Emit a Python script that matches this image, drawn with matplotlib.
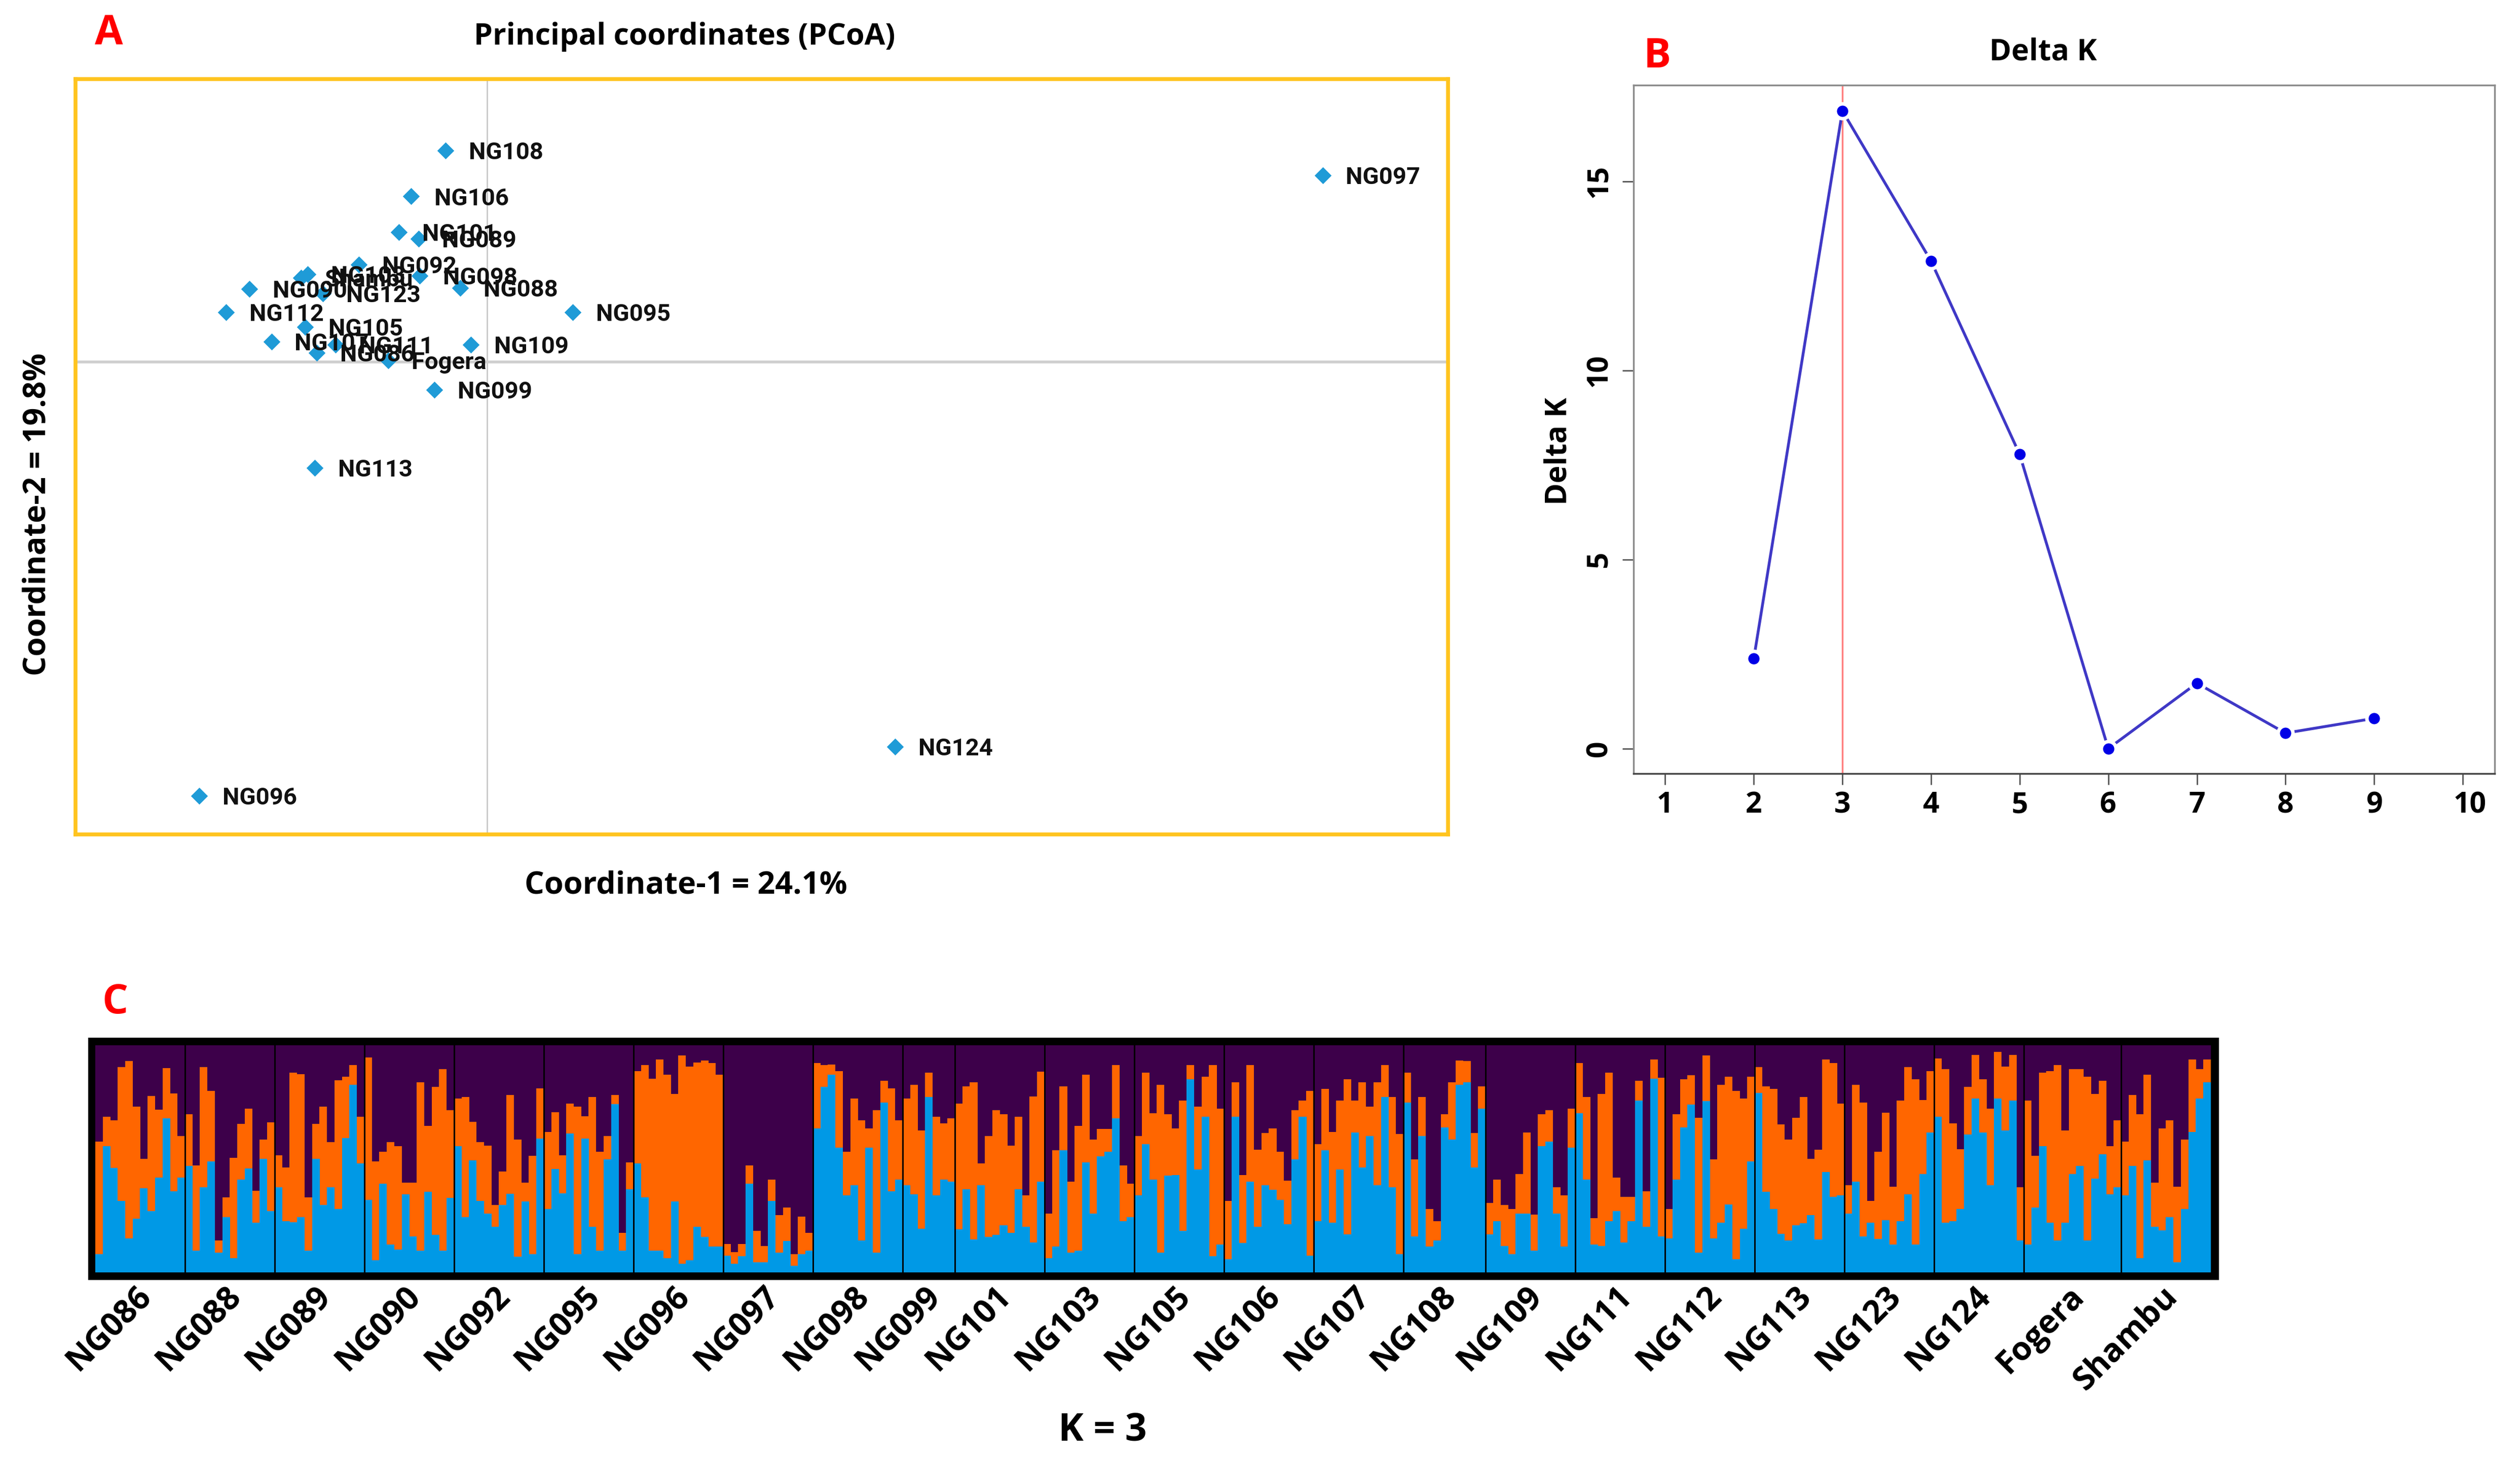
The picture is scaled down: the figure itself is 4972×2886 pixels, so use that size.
import matplotlib
matplotlib.use("Agg")
import matplotlib.pyplot as plt
from matplotlib.patches import Rectangle
from matplotlib.transforms import ScaledTranslation

plt.rcParams['font.family'] = ['Open Sans', 'DejaVu Sans']

W, H = 4972, 2886

# ---- PCoA data (coordinates in arbitrary units) ----
pcoa_names = ["NG108", "NG106", "NG101", "NG089", "NG092", "NG098", "NG088", "NG095",
              "NG109", "NG099", "NG112", "NG090", "NG123", "NG105", "NG107", "NG111",
              "NG086", "Fogera", "Shambu", "NG103", "NG097", "NG096", "NG124", "NG113"]
coord1 = [-0.257, -0.472, -0.549, -0.426, -0.798, -0.418, -0.167, 0.533,
          -0.100, -0.328, -1.624, -1.477, -1.021, -1.132, -1.341, -0.941,
          -1.059, -0.613, -1.156, -1.116, 5.20, -1.79, 2.54, -1.07]
coord2 = [1.315, 1.030, 0.808, 0.766, 0.606, 0.536, 0.460, 0.309,
          0.107, -0.174, 0.309, 0.454, 0.427, 0.219, 0.125, 0.107,
          0.058, 0.010, 0.524, 0.546, 1.16, -2.70, -2.395, -0.66]

# ---- Delta K data ----
k_values = [2, 3, 4, 5, 6, 7, 8, 9]
delta_k = [2.38, 16.86, 12.89, 7.78, 0.0, 1.73, 0.41, 0.80]

# ---- Structure data: one row per group ----
group_names = ["NG086", "NG088", "NG089", "NG090", "NG092", "NG095", "NG096", "NG097",
               "NG098", "NG099", "NG101", "NG103", "NG105", "NG106", "NG107", "NG108",
               "NG109", "NG111", "NG112", "NG113", "NG123", "NG124", "Fogera", "Shambu"]

# share of the blue cluster in each individual
blue_share = [
    [.08, .556, .46, .315, .15, .236, .37, .27, .417, .678, .357, .417],
    [.468, .097, .374, .488, .086, .244, .062, .409, .457, .218, .50, .27],
    [.374, .226, .22, .244, .097, .50, .297, .374, .28, .592, .826, .48],
    [.32, .054, .39, .122, .10, .343, .158, .097, .355, .165, .097, .329],
    [.556, .244, .494, .315, .26, .20, .297, .346, .07, .312, .08, .59],
    [.28, .456, .349, .612, .08, .59, .20, .097, .497, .74, .097, .366],
    [.48, .33, .097, .097, .062, .312, .037, .054, .20, .156, .114, .114],
    [.073, .037, .071, .39, .045, .045, .315, .088, .139, .03, .08, .097],
    [.635, .816, .87, .548, .34, .383, .141, .548, .088, .748, .357, .409],
    [.385, .343, .192, .773, .34, .409, .40],
    [.19, .366, .144, .383, .156, .165, .208, .175, .366, .20, .131, .40],
    [.062, .114, .539, .086, .097, .485, .26, .511, .531, .678, .226, .244],
    [.34, .565, .409, .088, .426, .428, .184, .85, .454, .686, .071, .122],
    [.058, .686, .129, .40, .20, .385, .363, .32, .212, .498, .686, .073],
    [.226, .537, .218, .453, .167, .616, .462, .60, .383, .773, .374, .08],
    [.748, .158, .60, .114, .141, .639, .584, .827, .836, .462, .722],
    [.167, .226, .115, .08, .26, .26, .097, .556, .575, .26, .114, .548],
    [.70, .409, .122, .115, .226, .269, .131, .226, .756, .20, .853, .158],
    [.15, .409, .639, .739, .088, .755, .15, .218, .30, .058, .192, .488],
    [.79, .355, .278, .169, .141, .208, .216, .252, .144, .443, .332, .34],
    [.259, .40, .158, .218, .148, .229, .122, .226, .343, .122, .434, .616],
    [.685, .218, .226, .28, .608, .765, .616, .383, .765, .626, .756, .141],
    [.122, .286, .556, .218, .141, .218, .434, .468, .141, .413, .52, .343, .374],
    [.34, .468, .062, .494, .20, .186, .244, .045, .28, .618, .765, .836],
]
# top of the orange cluster (blue + orange), the rest up to 1 is purple
orange_top = [
    [.575, .686, .67, .904, .93, .73, .50, .776, .716, .90, .787, .60],
    [.697, .47, .904, .80, .141, .33, .505, .654, .722, .36, .585, .66],
    [.515, .462, .88, .873, .33, .654, .73, .574, .845, .862, .913, .686],
    [.947, .488, .532, .574, .556, .394, .394, .836, .645, .816, .896, .714],
    [.765, .772, .662, .574, .558, .297, .445, .782, .584, .394, .514, .81],
    [.618, .705, .515, .744, .729, .688, .773, .532, .60, .782, .175, .485],
    [.887, .913, .853, .938, .87, .785, .956, .907, .924, .932, .921, .87],
    [.124, .09, .124, .47, .184, .115, .409, .252, .286, .08, .246, .175],
    [.921, .913, .915, .887, .532, .765, .67, .635, .714, .844, .81, .67],
    [.765, .827, .626, .879, .686, .656, .678],
    [.744, .819, .836, .479, .60, .714, .697, .558, .686, .34, .774, .885],
    [.26, .539, .819, .40, .645, .87, .585, .631, .631, .913, .47, .391],
    [.60, .879, .70, .825, .697, .635, .756, .913, .731, .862, .913, .722],
    [.315, .836, .428, .913, .541, .614, .635, .532, .403, .714, .756, .80],
    [.565, .808, .618, .756, .85, .756, .836, .731, .836, .913, .773, .609],
    [.879, .497, .773, .28, .226, .697, .836, .932, .93, .614, .819],
    [.306, .409, .297, .28, .432, .616, .255, .697, .714, .374, .34, .722],
    [.921, .773, .238, .785, .879, .417, .332, .332, .844, .357, .938, .857],
    [.278, .697, .85, .868, .68, .956, .498, .825, .862, .80, .765, .862],
    [.904, .819, .808, .652, .584, .68, .773, .50, .541, .938, .921, .744],
    [.383, .827, .748, .315, .531, .703, .377, .756, .904, .85, .759, .887],
    [.943, .896, .656, .543, .816, .957, .85, .722, .971, .907, .957, .374],
    [.756, .514, .879, .887, .913, .626, .896, .896, .862, .785, .844, .556, .67],
    [.575, .782, .697, .87, .394, .635, .67, .377, .584, .938, .896, .938],
]

BLUE = "#0099E6"
ORANGE = "#FF6600"
PURPLE = "#3D004A"


def box(l, t, r, b):
    # pixel box of the reference -> figure fractions
    return [l / W, 1 - b / H, (r - l) / W, (b - t) / H]


def put(x, y, s, **kw):
    fig.text(x / W, 1 - y / H, s, ha="center", va="center", **kw)


def nudge(label, px):
    # shift a tick label sideways by some pixels
    label.set_transform(label.get_transform() + ScaledTranslation(px / 100, 0, fig.dpi_scale_trans))


fig = plt.figure(figsize=(W / 100, H / 100), dpi=100)

# ================= A: PCoA ================= #
ax_a = fig.add_axes(box(149, 156, 2857, 1646))
ax_a.set_xlim(-2.56, 5.98)
ax_a.set_ylim(-2.94, 1.76)
ax_a.axvline(0, color="#C8C8C8", lw=2)
ax_a.axhline(0, color="#CFCFCF", lw=4)
ax_a.scatter(coord1, coord2, marker="D", s=290, color="#1F9BD7", linewidths=0, zorder=3)
for name, cx, cy in zip(pcoa_names, coord1, coord2):
    ax_a.annotate(name, (cx, cy), xytext=(33, -3), textcoords="offset points",
                  va="center", fontsize=34, fontweight="bold", color="#111111", zorder=4,
                  family=["Roboto", "Open Sans"])
ax_a.set_xticks([])
ax_a.set_yticks([])
for sp in ax_a.spines.values():
    sp.set_color("#FFC41F")
    sp.set_linewidth(5.5)

put(1351, 72, "Principal coordinates (PCoA)", fontsize=42.5, fontweight="bold")
put(1353, 1747, "Coordinate-1 = 24.1%", fontsize=44, fontweight="bold")
put(74, 1015, "Coordinate-2 = 19.8%", fontsize=44, fontweight="bold", rotation=90)
put(215, 68, "A", fontsize=58, fontweight="bold", color="#FF0000")

# ================= B: Delta K ================= #
ax_b = fig.add_axes(box(3223, 168, 4922, 1526))
ax_b.set_xlim(0.643, 10.36)
ax_b.set_ylim(-0.66, 17.54)
ax_b.axvline(3, color="#FF8080", lw=2.5)
ax_b.plot(k_values, delta_k, color="#3F38C6", lw=4, marker="o", ms=21,
          mfc="#0000E6", mec="white", mew=5)
ax_b.set_xticks(range(1, 11))
ax_b.set_yticks([0, 5, 10, 15])
ax_b.tick_params(axis="x", length=16, width=2, color="#555555", labelsize=41, pad=8)
ax_b.tick_params(axis="y", length=16, width=2, color="#555555", labelsize=41, pad=12)
for lab in ax_b.get_xticklabels():
    lab.set_fontweight("bold")
nudge(ax_b.get_xticklabels()[-1], 14)
for lab in ax_b.get_yticklabels():
    lab.set_fontweight("bold")
    lab.set_rotation(90)
    lab.set_va("center")
for sp in ax_b.spines.values():
    sp.set_color("#8C8C8C")
    sp.set_linewidth(2.5)
ax_b.spines["bottom"].set_color("#444444")

put(4031, 103, "Delta K", fontsize=42.5, fontweight="bold")
put(3075, 890, "Delta K", fontsize=42.5, fontweight="bold", rotation=90)
put(3270, 112, "B", fontsize=58, fontweight="bold", color="#FF0000")

# ================= C: Structure bar plot ================= #
# black frame behind the plot
fig.add_artist(Rectangle((174 / W, 1 - 2525 / H), (4378 - 174) / W, (2525 - 2047) / H,
                         transform=fig.transFigure, facecolor="black", edgecolor="none",
                         zorder=-1))
ax_c = fig.add_axes(box(188, 2062, 4362, 2510))

start = 0
centers = []
bounds = []
for blue, top in zip(blue_share, orange_top):
    xs = [start + i + 0.5 for i in range(len(blue))]
    ax_c.bar(xs, [1] * len(xs), width=1.02, color=PURPLE, linewidth=0)
    ax_c.bar(xs, top, width=1.02, color=ORANGE, linewidth=0)
    ax_c.bar(xs, blue, width=1.02, color=BLUE, linewidth=0)
    centers.append(start + len(blue) / 2)
    start += len(blue)
    bounds.append(start)

for b in bounds[:-1]:
    ax_c.axvline(b, color="black", lw=2.2)
ax_c.set_xlim(0, start)
ax_c.set_ylim(0, 1)
ax_c.set_yticks([])
ax_c.set_xticks(centers)
ax_c.set_xticklabels(group_names, rotation=45, ha="right", rotation_mode="anchor",
                     fontsize=46, fontweight="bold")
ax_c.tick_params(axis="x", length=0, pad=11)
for lab in ax_c.get_xticklabels():
    nudge(lab, -10)
for sp in ax_c.spines.values():
    sp.set_visible(False)

put(2175, 2822, "K = 3", fontsize=54, fontweight="bold")
put(227, 1978, "C", fontsize=58, fontweight="bold", color="#FF0000")

fig.savefig("out.png", dpi=100)
